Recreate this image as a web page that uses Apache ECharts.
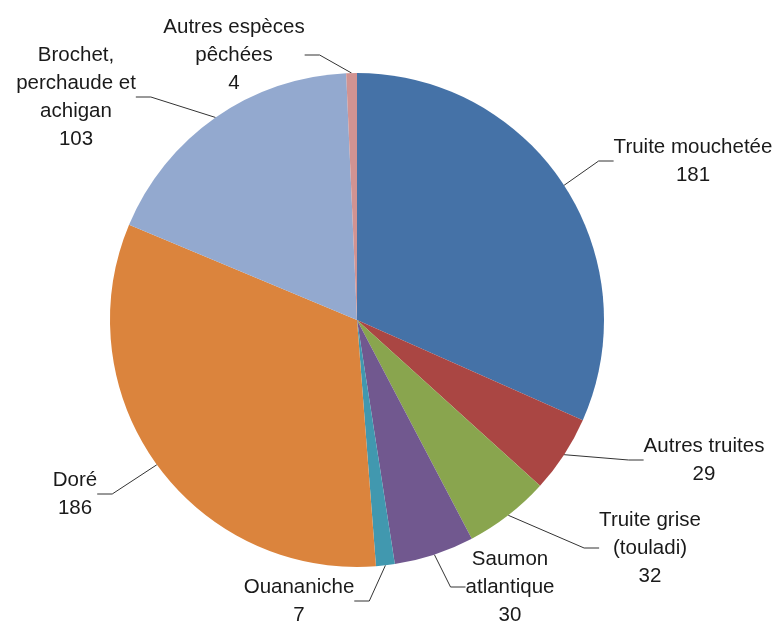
<!DOCTYPE html>
<html>
<head>
<meta charset="utf-8">
<script src="https://cdn.jsdelivr.net/npm/echarts@6/dist/echarts.min.js"></script>
<style>
html, body { margin: 0; padding: 0; background: #fff; }
#chart { width: 781px; height: 623px; }
</style>
</head>
<body>
<div id="chart"></div>
<script>
// données
const categories = [
	'Truite mouchetée',
	'Autres truites',
	'Truite grise\n(touladi)',
	'Saumon\natlantique',
	'Ouananiche',
	'Doré',
	'Brochet,\nperchaude et\nachigan',
	'Autres espèces\npêchées'
];
const values = [181, 29, 32, 30, 7, 186, 103, 4];
const colors = ['#4572A7', '#AA4643', '#89A54E', '#71588F', '#4198AF', '#DB843D', '#93A9CF', '#D19392'];

// position des étiquettes (centre du bloc de texte)
const labelPos = [
	[693, 161],
	[704, 460],
	[650, 548],
	[510, 587],
	[299, 601],
	[75, 494],
	[76, 97],
	[234, 55]
];

const chart = echarts.init(document.getElementById('chart'));
chart.setOption({
	animation: false,
	color: colors,
	series: [
		{
			type: 'pie',
			center: [357, 320],
			radius: 247,
			startAngle: 90,
			clockwise: true,
			avoidLabelOverlap: false,
			itemStyle: { borderWidth: 0 },
			label: {
				show: true,
				formatter: '{b}\n{c}',
				fontFamily: 'Liberation Sans',
				fontSize: 20.5,
				lineHeight: 28,
				color: '#1a1a1a',
				align: 'center'
			},
			labelLine: {
				show: true,
				length: 15,
				length2: 15,
				lineStyle: { color: '#333', width: 1 }
			},
			labelLayout: function (params) {
				const p = labelPos[params.dataIndex];
				return { x: p[0], y: p[1], align: 'center', verticalAlign: 'middle' };
			},
			data: categories.map((name, i) => ({ name: name, value: values[i] }))
		}
	]
});
</script>
</body>
</html>
